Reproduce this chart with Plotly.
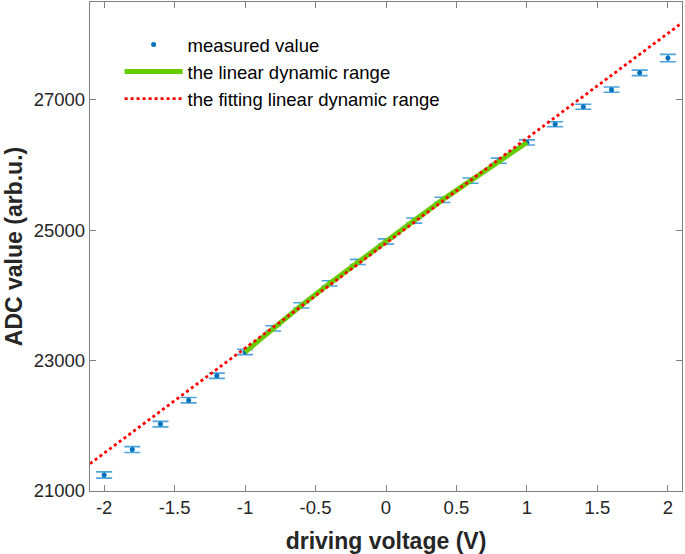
import plotly.graph_objects as go

voltage = [-2.0, -1.8, -1.6, -1.4, -1.2, -1.0, -0.8, -0.6, -0.4, -0.2, 0.0,
           0.2, 0.4, 0.6, 0.8, 1.0, 1.2, 1.4, 1.6, 1.8, 2.0]
adc = [21245, 21635, 22026, 22393, 22768, 23132, 23495, 23847, 24184, 24513, 24827,
       25148, 25465, 25760, 26066, 26346, 26625, 26893, 27156, 27413, 27640]
adc_err = [48, 45, 42, 41, 40, 40, 40, 40, 40, 40, 40,
           40, 40, 40, 40, 40, 38, 38, 40, 42, 56]

linear_lo, linear_hi = -1.0, 1.0
fit_slope = 1610
fit_intercept = 24800
fit_x = [-2.1, 2.1]

x_ticks = [-2, -1.5, -1, -0.5, 0, 0.5, 1, 1.5, 2]
x_ticktext = ["-2", "-1.5", "-1", "-0.5", "0", "0.5", "1", "1.5", "2"]
y_ticks = [21000, 23000, 25000, 27000]
y_ticktext = ["21000", "23000", "25000", "27000"]

lin_x = [v for v in voltage if linear_lo <= v <= linear_hi]
lin_y = [a for v, a in zip(voltage, adc) if linear_lo <= v <= linear_hi]
fit_y = [fit_slope * x + fit_intercept for x in fit_x]

FONT = "Liberation Sans, Arial, Helvetica"
BLUE = "#0072BD"
fig = go.Figure()
fig.add_trace(go.Scatter(
    x=voltage, y=adc, mode="markers", name="measured value",
    marker=dict(color=BLUE, size=5),
    error_y=dict(type="data", array=adc_err, color="#4DA3DB", thickness=1.6, width=8),
))
fig.add_trace(go.Scatter(
    x=lin_x, y=lin_y, mode="lines",
    name="the linear dynamic range", line=dict(color="#66CC00", width=5),
))
fig.add_trace(go.Scatter(
    x=fit_x, y=fit_y, mode="lines", name="the fitting linear dynamic range",
    line=dict(color="#FF0000", width=2.8, dash="dot"),
))

axis_common = dict(
    showline=True, mirror="ticks", linecolor="#808080", linewidth=1.3,
    ticks="inside", ticklen=6, tickcolor="#808080", tickwidth=1.3,
    showgrid=False, zeroline=False, automargin=False,
    tickfont=dict(family=FONT, size=18.5, color="#262626"),
)
fig.update_xaxes(range=[-2.1, 2.1], tickvals=x_ticks, ticktext=x_ticktext,
                 title=dict(text="<b>driving voltage (V)</b>", standoff=15,
                            font=dict(family=FONT, size=23, color="#262626")),
                 **axis_common)
fig.update_yaxes(range=[21000, 28500], tickvals=y_ticks, ticktext=y_ticktext,
                 title=dict(text="<b>ADC value (arb.u.)</b>", standoff=4,
                            font=dict(family=FONT, size=23, color="#262626")),
                 **axis_common)
fig.update_layout(
    width=685, height=554,
    margin=dict(l=90, r=3, t=2, b=63),
    plot_bgcolor="white", paper_bgcolor="white",
    legend=dict(x=0.05, y=0.951, xanchor="left", yanchor="top",
                bgcolor="rgba(0,0,0,0)", itemwidth=58,
                font=dict(family=FONT, size=18.5, color="#000000"),
                tracegroupgap=0),
    showlegend=True,
)
fig.write_html("out.html", config={"displayModeBar": False},
               post_script="document.body.style.margin='0';")
